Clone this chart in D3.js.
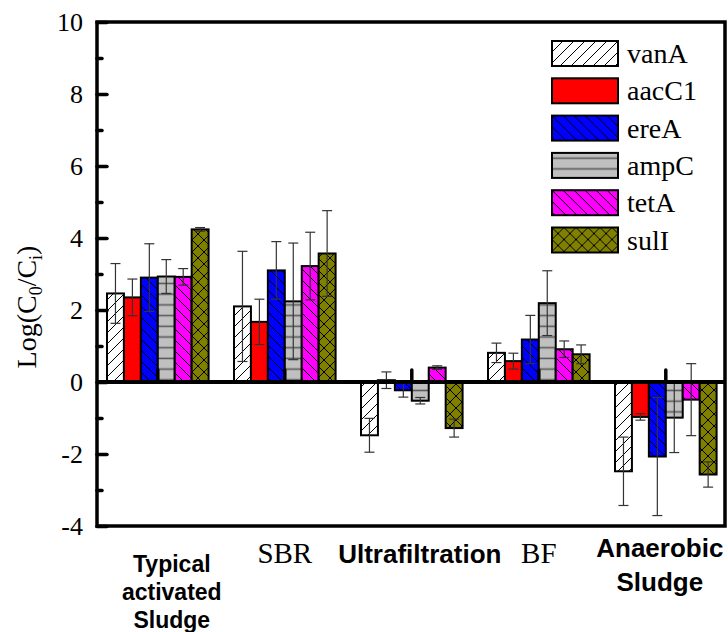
<!DOCTYPE html>
<html>
<head>
<meta charset="utf-8">
<script src="https://cdn.jsdelivr.net/npm/d3@7/dist/d3.min.js"></script>
<style>
  body { margin: 0; background: #fff; }
  svg { display: block; }
  .serif { font-family: "Liberation Serif", "Times New Roman", serif; }
  .sans { font-family: "Liberation Sans", Arial, sans-serif; font-weight: bold; }
</style>
</head>
<body>
<svg id="chart" width="728" height="632"></svg>
<script>
// data: Log(C0/Ci) per treatment and gene, with error (+/-)
const groups = ["Typical activated Sludge", "SBR", "Ultrafiltration", "BF", "Anaerobic Sludge"];
const genes = ["vanA", "aacC1", "ereA", "ampC", "tetA", "sulI"];

const vanA     = [2.46, 2.10, -1.48, 0.81, -2.48];
const vanAErr  = [0.83, 1.53, 0.47, 0.27, 0.95];
const aacC1    = [2.35, 1.67, 0.05, 0.58, -0.97];
const aacC1Err = [0.51, 0.63, 0.23, 0.22, 0.09];
const ereA     = [2.90, 3.10, -0.23, 1.18, -2.07];
const ereAErr  = [0.94, 0.80, 0.19, 0.67, 1.64];
const ampC     = [2.93, 2.24, -0.52, 2.19, -0.99];
const ampCErr  = [0.47, 1.62, 0.09, 0.90, 0.97];
const tetA     = [2.92, 3.22, 0.40, 0.91, -0.49];
const tetAErr  = [0.23, 0.94, 0.05, 0.23, 1.00];
const sulI     = [4.24, 3.57, -1.28, 0.77, -2.57];
const sulIErr  = [0.05, 1.19, 0.25, 0.26, 0.35];

const majorTicks = [-4, -2, 0, 2, 4, 6, 8, 10];
const minorTicks = [-3, -1, 1, 3, 5, 7, 9];

const groupLabelLines = [["Typical", "activated", "Sludge"], ["SBR"], ["Ultrafiltration"], ["BF"], ["Anaerobic", "Sludge"]];

const values = { vanA, aacC1, ereA, ampC, tetA, sulI };
const errors = { vanA: vanAErr, aacC1: aacC1Err, ereA: ereAErr, ampC: ampCErr, tetA: tetAErr, sulI: sulIErr };

// layout / style
const frame = { left: 97, top: 22, right: 725, bottom: 526 };
const geneFill = { vanA: "#ffffff", aacC1: "#ff0000", ereA: "#0000ff", ampC: "#c0c0c0", tetA: "#ff00ff", sulI: "#808000" };
const labelStyle = [
  { font: "sans",  size: 23, dx: 14, y: 572, lh: 28 },
  { font: "serif", size: 29, dx: 0,  y: 563, lh: 0 },
  { font: "sans",  size: 26, dx: 8,  y: 563, lh: 0 },
  { font: "serif", size: 29, dx: 0,  y: 563, lh: 0 },
  { font: "sans",  size: 26, dx: -6, y: 557, lh: 34 }
];

const svg = d3.select("#chart");

// fill patterns
const defs = svg.append("defs");
function pattern(id, bg, w, h, paths, stroke, sw) {
  const p = defs.append("pattern")
    .attr("id", id)
    .attr("patternUnits", "userSpaceOnUse")
    .attr("width", w)
    .attr("height", h);
  p.append("rect").attr("width", w).attr("height", h).attr("fill", bg);
  paths.forEach(d => p.append("path")
    .attr("d", d)
    .attr("fill", "none")
    .attr("stroke", stroke)
    .attr("stroke-width", sw));
}
const s = 11;
const fwd = `M0,${s} L${s},0 M-2,2 L2,-2 M${s - 2},${s + 2} L${s + 2},${s - 2}`;
const back = `M0,0 L${s},${s} M-2,${s - 2} L2,${s + 2} M${s - 2},-2 L${s + 2},2`;
pattern("p-vanA", geneFill.vanA, s, s, [fwd], "#000", 1);
pattern("p-ereA", geneFill.ereA, s, s, [back], "#000", 1);
pattern("p-ampC", geneFill.ampC, 10, 10.7, ["M-1,5.3 L11,5.3"], "#5a5a5a", 1.6);
pattern("p-tetA", geneFill.tetA, s, s, [back], "#000", 1);
pattern("p-sulI", geneFill.sulI, 12, 12, [`M0,12 L12,0 M-2,2 L2,-2 M10,14 L14,10`, `M0,0 L12,12 M-2,10 L2,14 M10,-2 L14,2`], "#000", 1);
const fillOf = g => g === "aacC1" ? geneFill.aacC1 : `url(#p-${g})`;

const y = d3.scaleLinear().domain([-4, 10]).range([frame.bottom, frame.top]);
const x = d3.scaleBand()
  .domain(groups)
  .range([94.3, 729.3])
  .paddingInner(0.2)
  .paddingOuter(0.1);
const xGene = d3.scaleBand().domain(genes).range([0, x.bandwidth()]);

const barData = groups.flatMap((grp, i) => genes.map(g => ({
  group: grp, gene: g, value: values[g][i], err: errors[g][i]
})));

// bars
svg.append("g").selectAll("rect")
  .data(barData)
  .enter()
  .append("rect")
  .attr("x", d => x(d.group) + xGene(d.gene))
  .attr("y", d => y(Math.max(0, d.value)))
  .attr("width", xGene.bandwidth())
  .attr("height", d => Math.abs(y(d.value) - y(0)))
  .attr("fill", d => fillOf(d.gene))
  .attr("stroke", "#000")
  .attr("stroke-width", 2);

// error bars
const cap = 5;
const eb = svg.append("g")
  .attr("stroke", "#333")
  .attr("stroke-width", 1.2)
  .selectAll("g")
  .data(barData)
  .enter()
  .append("g")
  .attr("transform", d => `translate(${x(d.group) + xGene(d.gene) + xGene.bandwidth() / 2},0)`);
eb.append("line")
  .attr("y1", d => y(d.value + d.err))
  .attr("y2", d => y(d.value - d.err));
eb.append("line")
  .attr("x1", -cap).attr("x2", cap)
  .attr("y1", d => y(d.value + d.err))
  .attr("y2", d => y(d.value + d.err));
eb.append("line")
  .attr("x1", -cap).attr("x2", cap)
  .attr("y1", d => y(d.value - d.err))
  .attr("y2", d => y(d.value - d.err));

// zero line with inward ticks at group centres
svg.append("line")
  .attr("x1", frame.left).attr("x2", frame.right)
  .attr("y1", y(0)).attr("y2", y(0))
  .attr("stroke", "#000")
  .attr("stroke-width", 4);

const xAxis = svg.append("g")
  .attr("transform", `translate(0,${y(0)})`)
  .call(d3.axisTop(x).tickSize(12).tickSizeOuter(0).tickFormat(""));
xAxis.select(".domain").remove();
xAxis.selectAll(".tick line")
  .attr("stroke", "#000")
  .attr("stroke-width", 3.5)
  .attr("stroke-linecap", "round");

// frame
svg.append("rect")
  .attr("x", frame.left)
  .attr("y", frame.top)
  .attr("width", frame.right - frame.left)
  .attr("height", frame.bottom - frame.top)
  .attr("fill", "none")
  .attr("stroke", "#000")
  .attr("stroke-width", 3.5);

// y axis, ticks pointing inward
const yAxis = svg.append("g")
  .attr("transform", `translate(${frame.left},0)`)
  .call(d3.axisLeft(y).tickValues(majorTicks).tickSize(-10).tickPadding(14).tickFormat(d => String(d)));
yAxis.select(".domain").remove();
yAxis.selectAll(".tick line")
  .attr("stroke", "#000")
  .attr("stroke-width", 3.5)
  .attr("stroke-linecap", "round");
yAxis.selectAll(".tick text")
  .attr("class", "serif")
  .attr("fill", "#000")
  .style("font-size", "26px");

const yMinor = svg.append("g")
  .attr("transform", `translate(${frame.left},0)`)
  .call(d3.axisLeft(y).tickValues(minorTicks).tickSize(-5).tickFormat(""));
yMinor.select(".domain").remove();
yMinor.selectAll(".tick line")
  .attr("stroke", "#000")
  .attr("stroke-width", 3.5)
  .attr("stroke-linecap", "round");

// y axis title
const yTitle = svg.append("text")
  .attr("class", "serif")
  .attr("transform", "translate(36,307) rotate(-90)")
  .attr("text-anchor", "middle")
  .style("font-size", "28px");
yTitle.append("tspan").text("Log(C");
yTitle.append("tspan").attr("dy", 6).style("font-size", "18px").text("0");
yTitle.append("tspan").attr("dy", -6).text("/C");
yTitle.append("tspan").attr("dy", 6).style("font-size", "18px").text("i");
yTitle.append("tspan").attr("dy", -6).text(")");

// group labels under the frame
groups.forEach((grp, i) => {
  const st = labelStyle[i];
  const t = svg.append("text")
    .attr("class", st.font)
    .attr("text-anchor", "middle")
    .style("font-size", st.size + "px");
  groupLabelLines[i].forEach((line, k) => {
    t.append("tspan")
      .attr("x", x(grp) + x.bandwidth() / 2 + st.dx)
      .attr("y", st.y + k * st.lh)
      .text(line);
  });
});

// legend
const legend = svg.append("g").attr("transform", "translate(552,41)");
const row = legend.selectAll("g")
  .data(genes)
  .enter()
  .append("g")
  .attr("transform", (d, i) => `translate(0,${i * 37.3})`);
row.append("rect")
  .attr("width", 66)
  .attr("height", 25)
  .attr("fill", d => fillOf(d))
  .attr("stroke", "#000")
  .attr("stroke-width", 2);
row.append("text")
  .attr("class", "serif")
  .attr("x", 75)
  .attr("y", 22)
  .style("font-size", "28px")
  .text(d => d);
</script>
</body>
</html>
